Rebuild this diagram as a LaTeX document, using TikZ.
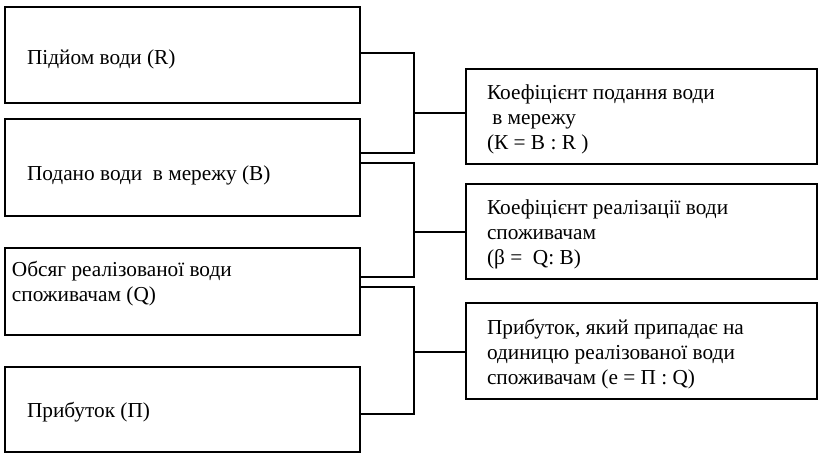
\documentclass[tikz,border=0pt]{standalone}
\usepackage{fontspec}
\setmainfont{Liberation Serif}
\begin{document}
\begin{tikzpicture}[x=1pt,y=-1pt,
  box/.style={draw,line width=1.6pt,rectangle,inner sep=0pt,outer sep=0pt,anchor=north west},
  txt/.style={anchor=base west,inner sep=0pt,outer sep=0pt,align=left,font=\fontsize{21.3pt}{24.8pt}\selectfont},
  conn/.style={line width=1.6pt}]
\useasboundingbox (0,0) rectangle (818,453);
% left boxes
\node[box,minimum width=355pt,minimum height=96pt] (b1) at (5,7) {};
\node[box,minimum width=355pt,minimum height=97pt] (b2) at (5,119) {};
\node[box,minimum width=355pt,minimum height=87pt] (b3) at (5,248) {};
\node[box,minimum width=355pt,minimum height=85pt] (b4) at (5,367) {};
% right boxes
\node[box,minimum width=351pt,minimum height=95pt] (r1) at (466,69) {};
\node[box,minimum width=351pt,minimum height=95pt] (r2) at (466,184) {};
\node[box,minimum width=351pt,minimum height=96pt] (r3) at (466,303) {};
% texts (multi-line nodes are placed by the baseline of their last line)
\node[txt] (t1) at (27,64) {Підйом води (R)};
\node[txt] (t2) at (27,180) {Подано води\ \ в мережу (В)};
\node[txt] (t3) at (12,301) {Обсяг реалізованої води\\споживачам (Q)};
\node[txt] (t4) at (27,417) {Прибуток (П)};
\node[txt] (s1) at (487,149) {Коефіцієнт подання води\\\ в мережу\\(К = В : R )};
\node[txt] (s2) at (487,264) {Коефіцієнт реалізації води\\споживачам\\(β =\ \ Q: B)};
\node[txt] (s3) at (487,384) {Прибуток, який припадає на\\одиницю реалізованої води\\споживачам (е = П : Q)};
% junction coordinates
\coordinate (j1) at (414,113);
\coordinate (j2) at (414,232);
\coordinate (j3) at (414,352);
% bracket 1
\draw[conn] (b1.east |- 0,53) -| (j1) |- (b2.east |- 0,153);
\draw[conn] (j1) -- (r1.west |- j1);
% bracket 2
\draw[conn] (b2.east |- 0,163) -| (j2) |- (b3.east |- 0,277);
\draw[conn] (j2) -- (r2.west |- j2);
% bracket 3
\draw[conn] (b3.east |- 0,287) -| (j3) |- (b4.east |- 0,414);
\draw[conn] (j3) -- (r3.west |- j3);
\end{tikzpicture}
\end{document}
